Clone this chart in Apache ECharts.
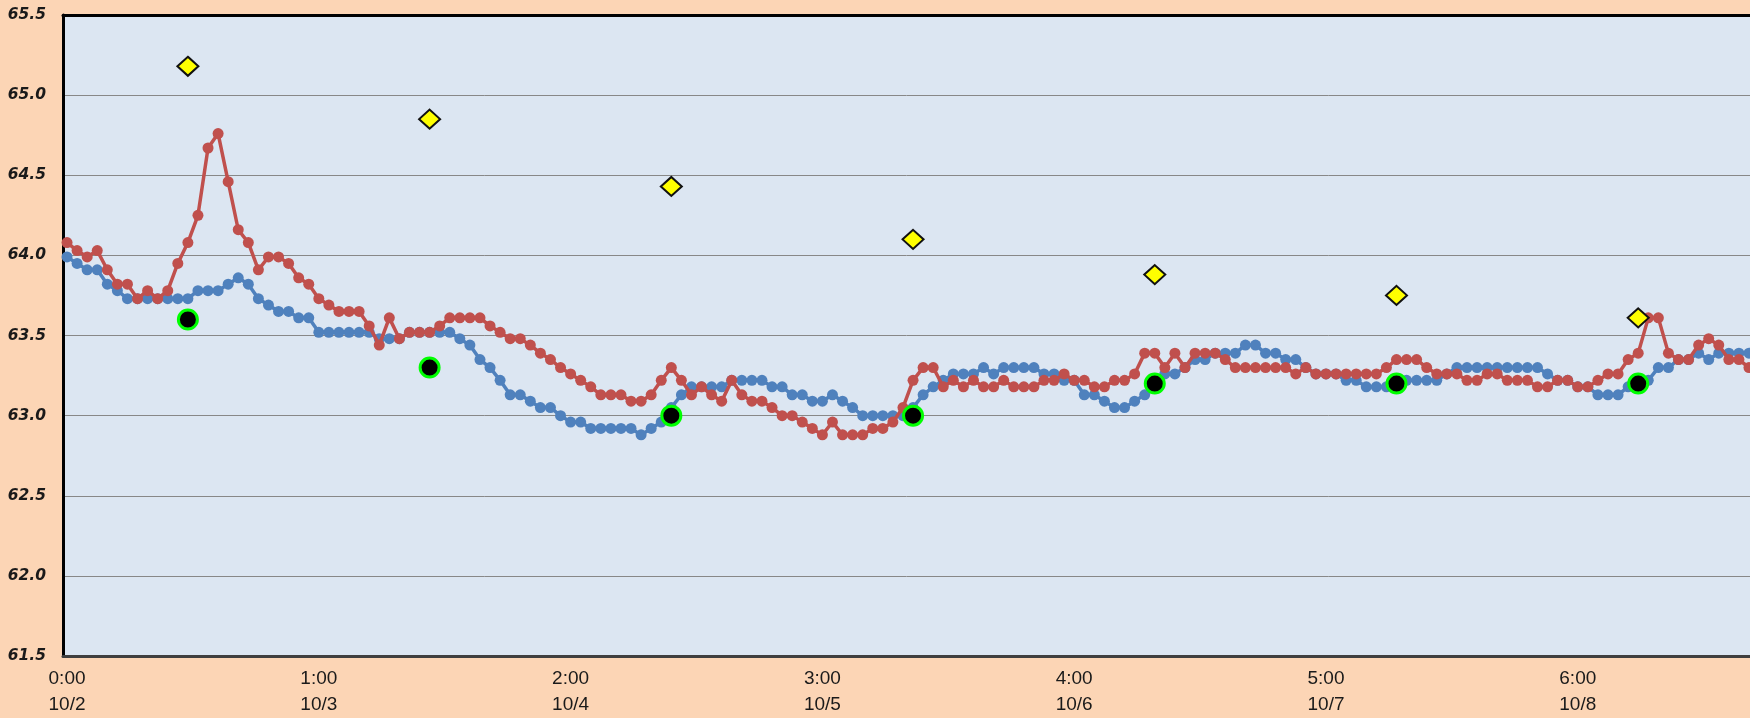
<!DOCTYPE html>
<html>
<head>
<meta charset="utf-8">
<script src="https://cdn.jsdelivr.net/npm/echarts@6/dist/echarts.min.js"></script>
<style>
html,body{margin:0;padding:0;background:#FCD5B5;}
#chart{width:1750px;height:718px;}
</style>
</head>
<body>
<div id="chart"></div>
<script>
// hourly readings, index = hour since 10/2 0:00
const blueValues = [
63.99,63.95,63.91,63.91,63.82,63.78,63.73,63.73,63.73,63.73,
63.73,63.73,63.73,63.78,63.78,63.78,63.82,63.86,63.82,63.73,
63.69,63.65,63.65,63.61,63.61,63.52,63.52,63.52,63.52,63.52,
63.52,63.48,63.48,63.48,63.52,63.52,63.52,63.52,63.52,63.48,
63.44,63.35,63.30,63.22,63.13,63.13,63.09,63.05,63.05,63.00,
62.96,62.96,62.92,62.92,62.92,62.92,62.92,62.88,62.92,62.96,
63.05,63.13,63.18,63.18,63.18,63.18,63.22,63.22,63.22,63.22,
63.18,63.18,63.13,63.13,63.09,63.09,63.13,63.09,63.05,63.00,
63.00,63.00,63.00,63.00,63.05,63.13,63.18,63.22,63.26,63.26,
63.26,63.30,63.26,63.30,63.30,63.30,63.30,63.26,63.26,63.22,
63.22,63.13,63.13,63.09,63.05,63.05,63.09,63.13,63.18,63.26,
63.26,63.30,63.35,63.35,63.39,63.39,63.39,63.44,63.44,63.39,
63.39,63.35,63.35,63.30,63.26,63.26,63.26,63.22,63.22,63.18,
63.18,63.18,63.22,63.22,63.22,63.22,63.22,63.26,63.30,63.30,
63.30,63.30,63.30,63.30,63.30,63.30,63.30,63.26,63.22,63.22,
63.18,63.18,63.13,63.13,63.13,63.18,63.22,63.22,63.30,63.30,
63.35,63.35,63.39,63.35,63.39,63.39,63.39,63.39
];
const redValues = [
64.08,64.03,63.99,64.03,63.91,63.82,63.82,63.73,63.78,63.73,
63.78,63.95,64.08,64.25,64.67,64.76,64.46,64.16,64.08,63.91,
63.99,63.99,63.95,63.86,63.82,63.73,63.69,63.65,63.65,63.65,
63.56,63.44,63.61,63.48,63.52,63.52,63.52,63.56,63.61,63.61,
63.61,63.61,63.56,63.52,63.48,63.48,63.44,63.39,63.35,63.30,
63.26,63.22,63.18,63.13,63.13,63.13,63.09,63.09,63.13,63.22,
63.30,63.22,63.13,63.18,63.13,63.09,63.22,63.13,63.09,63.09,
63.05,63.00,63.00,62.96,62.92,62.88,62.96,62.88,62.88,62.88,
62.92,62.92,62.96,63.05,63.22,63.30,63.30,63.18,63.22,63.18,
63.22,63.18,63.18,63.22,63.18,63.18,63.18,63.22,63.22,63.26,
63.22,63.22,63.18,63.18,63.22,63.22,63.26,63.39,63.39,63.30,
63.39,63.30,63.39,63.39,63.39,63.35,63.30,63.30,63.30,63.30,
63.30,63.30,63.26,63.30,63.26,63.26,63.26,63.26,63.26,63.26,
63.26,63.30,63.35,63.35,63.35,63.30,63.26,63.26,63.26,63.22,
63.22,63.26,63.26,63.22,63.22,63.22,63.18,63.18,63.22,63.22,
63.18,63.18,63.22,63.26,63.26,63.35,63.39,63.61,63.61,63.39,
63.35,63.35,63.44,63.48,63.44,63.35,63.35,63.30
];
// daily marker points (noon of each day)
const markerIdx = [12,36,60,84,108,132,156];
const blackValues = [63.60,63.30,63.00,63.00,63.20,63.20,63.20];
const yellowValues = [65.18,64.85,64.43,64.10,63.88,63.75,63.61];
// x tick labels (every 25 hours)
const tickIdx = [0,25,50,75,100,125,150];
const tickLabels = ["0:00\n10/2","1:00\n10/3","2:00\n10/4","3:00\n10/5","4:00\n10/6","5:00\n10/7","6:00\n10/8"];

const toPts = arr => arr.map((v,i)=>[i,v]);
const markPts = vals => vals.map((v,k)=>[markerIdx[k],v]);

const chart = echarts.init(document.getElementById('chart'), null, {renderer:'canvas'});
const XMIN = -0.4, XMAX = 167.1;
chart.setOption({
  animation:false,
  backgroundColor:'#FCD5B5',
  grid:{left:63,top:15,right:0,bottom:62,show:true,backgroundColor:'#DCE6F2',borderWidth:0},
  xAxis:[{
    type:'value',min:XMIN,max:XMAX,
    axisLine:{show:true,onZero:false,lineStyle:{color:'#3f3f3f',width:3}},
    axisTick:{show:false},
    splitLine:{show:false},
    axisLabel:{
      customValues:tickIdx,
      formatter:v=>{const k=tickIdx.indexOf(Math.round(v));return k>=0?tickLabels[k]:'';},
      color:'#1a1a1a',fontFamily:'Liberation Sans',fontSize:19,lineHeight:26,margin:10
    }
  },{
    type:'value',position:'top',min:XMIN,max:XMAX,
    axisLine:{show:true,onZero:false,lineStyle:{color:'#000',width:3}},
    axisTick:{show:false},axisLabel:{show:false},splitLine:{show:false}
  }],
  yAxis:{
    type:'value',min:61.5,max:65.5,interval:0.5,
    axisLine:{show:true,onZero:false,lineStyle:{color:'#000',width:3}},
    axisTick:{show:false},
    splitLine:{show:true,lineStyle:{color:'#888888',width:1}},
    axisLabel:{
      formatter:v=>v.toFixed(1),
      fontFamily:'DejaVu Sans',fontStyle:'italic',fontWeight:'bold',fontSize:15.5,color:'#1a1a1a',margin:17
    }
  },
  series:[
    {type:'line',data:toPts(blueValues),symbol:'circle',symbolSize:11,showAllSymbol:true,z:2,
     lineStyle:{color:'#4F81BD',width:3.5},itemStyle:{color:'#4F81BD'}},
    {type:'line',data:toPts(redValues),symbol:'circle',symbolSize:11,showAllSymbol:true,z:3,
     lineStyle:{color:'#C0504D',width:3.5},itemStyle:{color:'#C0504D'}},
    {type:'scatter',data:markPts(blackValues),symbol:'circle',symbolSize:19,z:6,
     itemStyle:{color:'#000',borderColor:'#00FF00',borderWidth:3,opacity:1}},
    {type:'scatter',data:markPts(yellowValues),symbol:'diamond',symbolSize:[21,19],z:7,
     itemStyle:{color:'#FFFF00',borderColor:'#111',borderWidth:2,opacity:1}}
  ]
});
</script>
</body>
</html>
